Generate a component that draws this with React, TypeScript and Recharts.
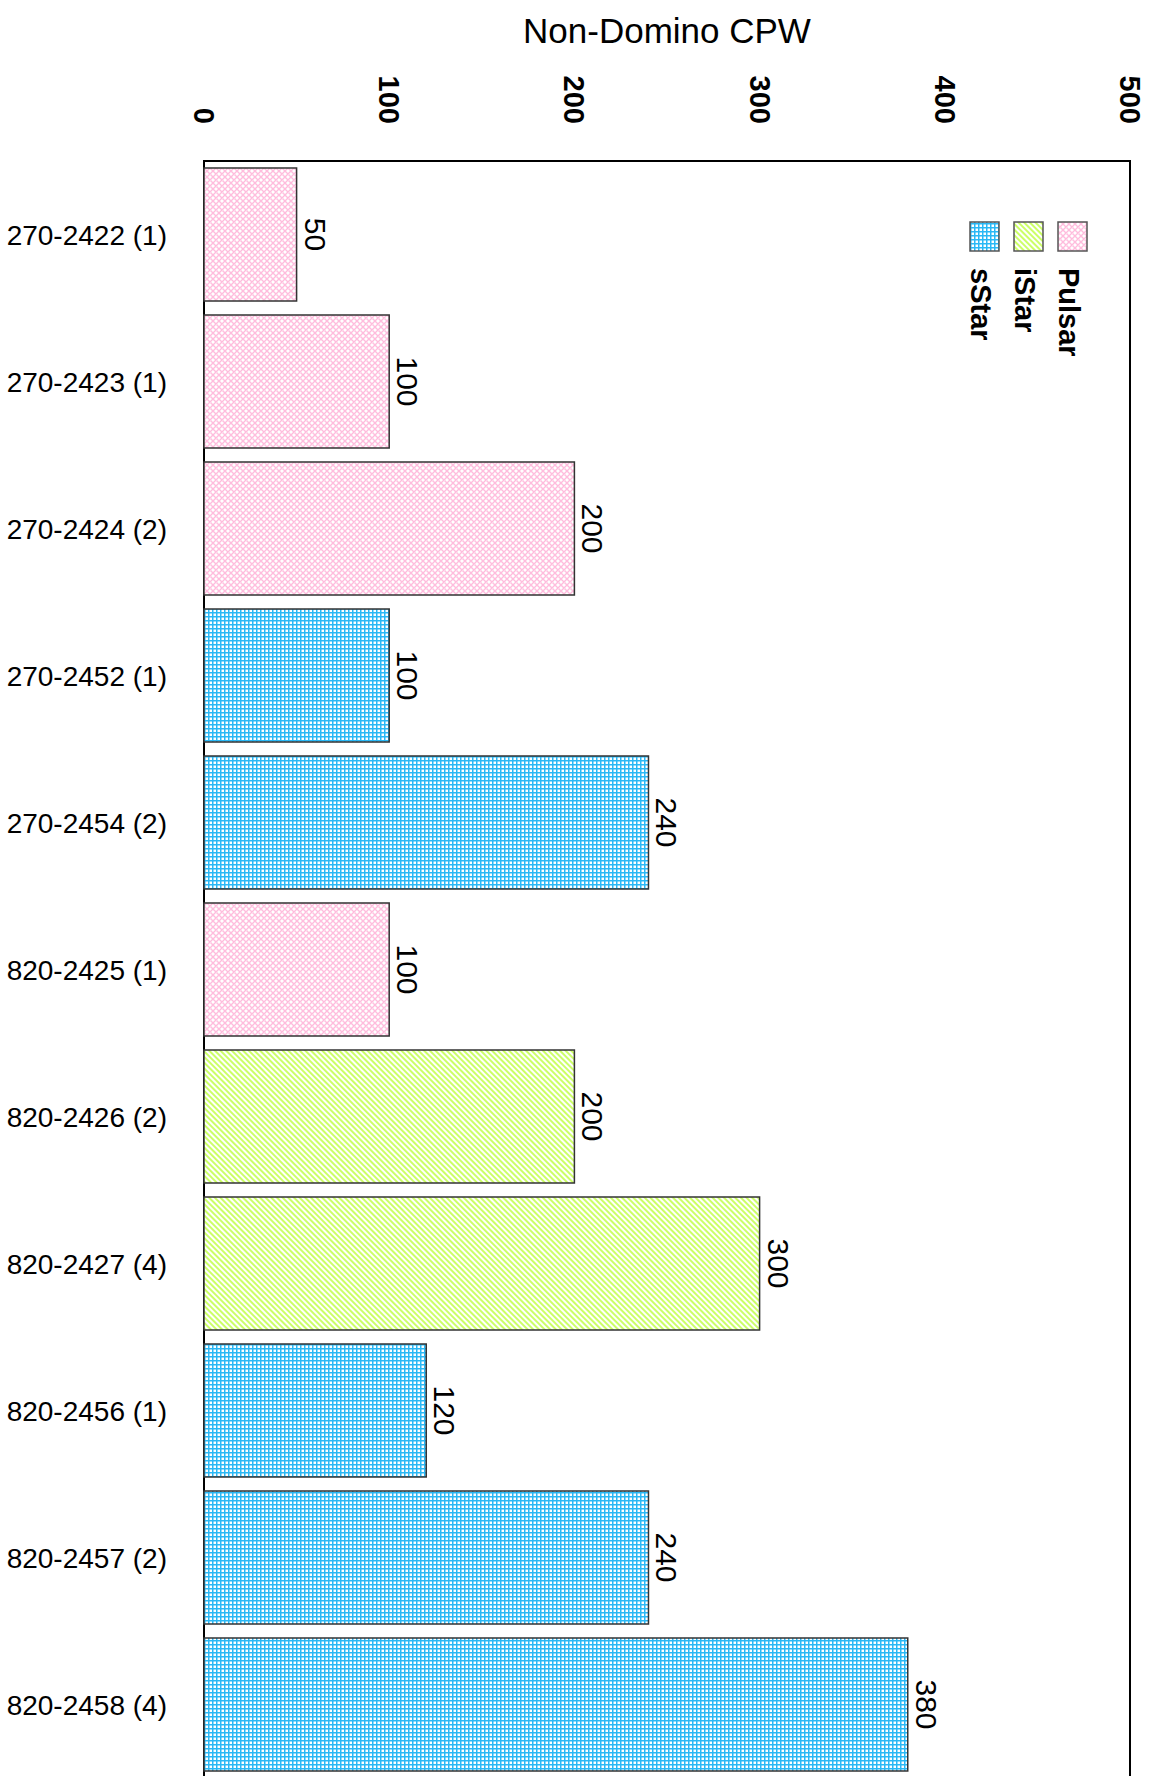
import React from "react";
import { Bar, BarChart, LabelList, Legend, ReferenceArea, XAxis, YAxis } from "recharts";

const categories = [
  "270-2422 (1)",
  "270-2423 (1)",
  "270-2424 (2)",
  "270-2452 (1)",
  "270-2454 (2)",
  "820-2425 (1)",
  "820-2426 (2)",
  "820-2427 (4)",
  "820-2456 (1)",
  "820-2457 (2)",
  "820-2458 (4)",
];
const cpwValues = [50, 100, 200, 100, 240, 100, 200, 300, 120, 240, 380];
const groups = ["Pulsar", "Pulsar", "Pulsar", "sStar", "sStar", "Pulsar", "iStar", "iStar", "sStar", "sStar", "sStar"];
const seriesNames = ["Pulsar", "iStar", "sStar"];
const valueTicks = [0, 100, 200, 300, 400, 500];

const FONT = "'Liberation Sans', Arial, Helvetica, sans-serif";
const patternId: Record<string, string> = { Pulsar: "pat-pulsar", iStar: "pat-istar", sStar: "pat-sstar" };

// one row per category, value sits in the column of its group (stacked so each bar takes the full band)
const data = categories.map((name, i) => {
  const row: Record<string, string | number | null> = { name };
  seriesNames.forEach((s) => {
    row[s] = groups[i] === s ? cpwValues[i] : null;
  });
  return row;
});

const ValueTick = (props: any) => {
  const { x, y, payload } = props;
  return (
    <text
      transform={`translate(${x - 10},${y}) rotate(90)`}
      textAnchor="end"
      fontFamily={FONT}
      fontWeight="bold"
      fontSize={29}
      fill="#000"
    >
      {payload.value}
    </text>
  );
};

const CategoryTick = (props: any) => {
  const { x, y, payload } = props;
  return (
    <text x={x} y={y} dy={10} textAnchor="end" fontFamily={FONT} fontSize={28} fill="#000">
      {payload.value}
    </text>
  );
};

const BarValue = (props: any) => {
  const { value } = props;
  if (value == null) return null;
  const vb = props.viewBox ?? props;
  const { x, y, width, height } = vb;
  const tx = x + width + 8;
  const ty = y + height / 2;
  return (
    <text
      transform={`translate(${tx},${ty}) rotate(90)`}
      textAnchor="middle"
      fontFamily={FONT}
      fontSize={30}
      fill="#000"
    >
      {value}
    </text>
  );
};

const RotatedLegend = (props: any) => {
  const items = (props.payload ?? []).slice();
  const n = items.length;
  return (
    <svg width={130} height={160} style={{ overflow: "visible" }}>
      {items.map((item: any, i: number) => {
        const left = (n - 1 - i) * 44;
        const name = item.value;
        return (
          <g key={name}>
            <rect x={left} y={7} width={29} height={29} fill={`url(#${patternId[name]})`} stroke="#555" strokeWidth={1.5} />
            <text
              transform={`translate(${left + 1},${53}) rotate(90)`}
              fontFamily={FONT}
              fontWeight="bold"
              fontSize={29}
              fill="#000"
            >
              {name}
            </text>
          </g>
        );
      })}
    </svg>
  );
};

export default function App() {
  return (
    <div style={{ position: "fixed", top: 0, left: 0, width: 1149, height: 1776, overflow: "hidden", background: "#fff" }}>
      <BarChart
        width={1149}
        height={1800}
        data={data}
        layout="vertical"
        margin={{ top: 0, right: 19, bottom: 22, left: 0 }}
        barCategoryGap={7}
      >
        <defs>
          <pattern id="pat-pulsar" width={6} height={6} patternUnits="userSpaceOnUse">
            <rect width={6} height={6} fill="#fff" />
            <path d="M0 0 L6 6 M6 0 L0 6" stroke="#ffbcdd" strokeWidth={1.4} />
            <rect x={0} y={0} width={1.5} height={1.5} fill="#ffd6ea" />
          </pattern>
          <pattern id="pat-istar" width={4} height={4} patternUnits="userSpaceOnUse" patternTransform="rotate(-45)">
            <rect width={4} height={4} fill="#fff" />
            <rect width={2} height={4} fill="#ccff66" />
          </pattern>
          <pattern id="pat-sstar" width={4} height={4} patternUnits="userSpaceOnUse">
            <rect width={4} height={4} fill="#fff" />
            <rect width={1.5} height={4} fill="#2ab8f5" />
            <rect width={4} height={1.5} fill="#2ab8f5" />
          </pattern>
        </defs>
        <XAxis
          type="number"
          orientation="top"
          domain={[0, 500]}
          ticks={valueTicks}
          height={161}
          axisLine={false}
          tickLine={false}
          tickSize={0}
          tickMargin={37}
          tick={<ValueTick />}
          interval={0}
          label={(p: any) => {
            const vb = p.viewBox ?? {};
            return (
              <text x={vb.x + vb.width / 2} y={43} textAnchor="middle" fontFamily={FONT} fontSize={35} fill="#000">
                Non-Domino CPW
              </text>
            );
          }}
        />
        <YAxis
          type="category"
          dataKey="name"
          width={204}
          axisLine={false}
          tickLine={false}
          tickSize={0}
          tickMargin={37}
          tick={<CategoryTick />}
          interval={0}
        />
        {seriesNames.map((s) => (
          <Bar
            key={s}
            dataKey={s}
            name={s}
            stackId="cpw"
            fill={`url(#${patternId[s]})`}
            stroke="#333"
            strokeWidth={1.5}
            isAnimationActive={false}
          >
            <LabelList dataKey={s} content={<BarValue />} />
          </Bar>
        ))}
        <ReferenceArea x1={0} x2={500} fill="none" stroke="#000" strokeWidth={2} ifOverflow="visible" />
        <Legend
          layout="horizontal"
          verticalAlign="middle"
          align="center"
          content={<RotatedLegend />}
          wrapperStyle={{ top: 215, left: 970, width: 130, height: 160 }}
        />
      </BarChart>
    </div>
  );
}
